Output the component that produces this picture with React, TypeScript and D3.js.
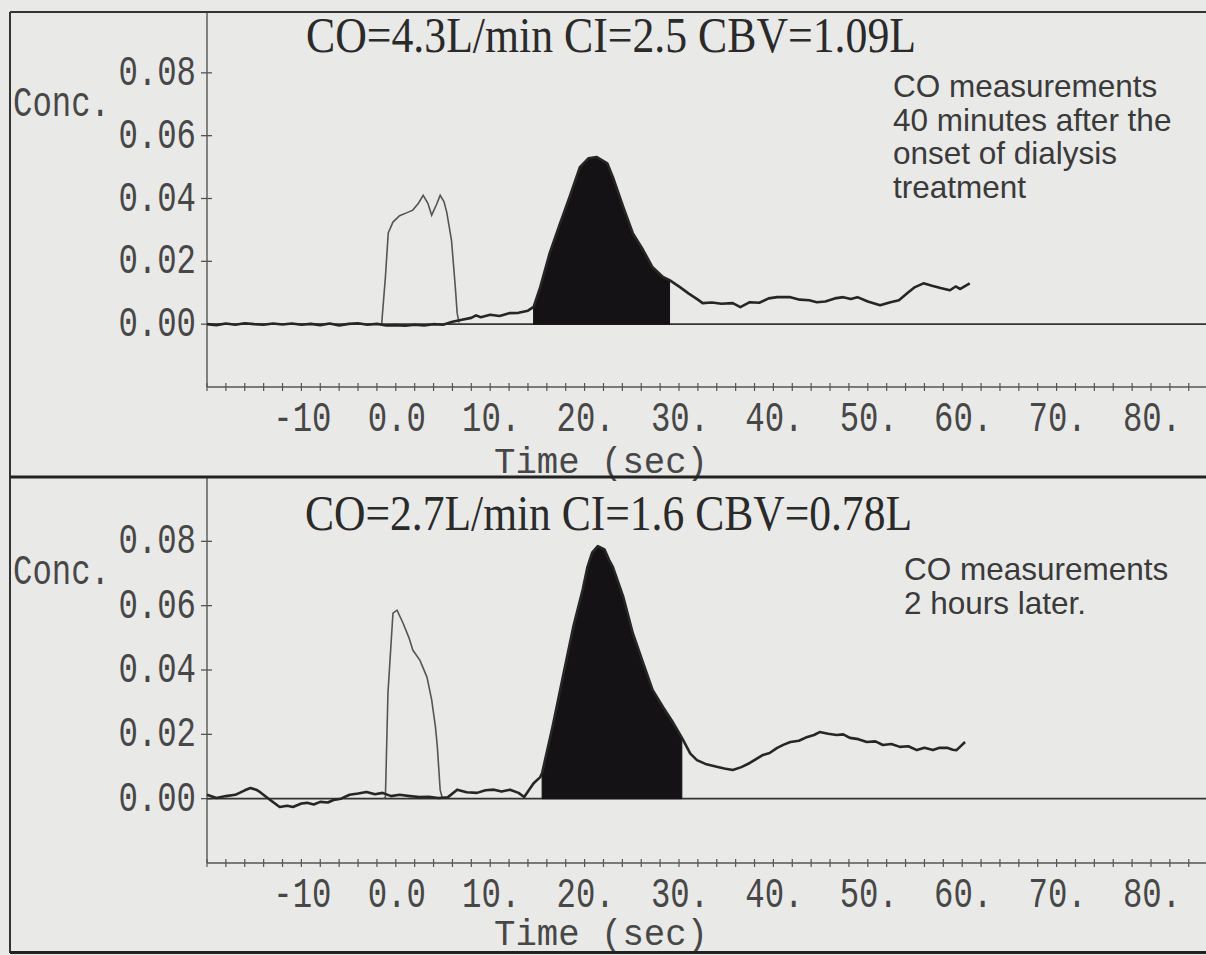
import React from "react";
import * as d3 from "d3";

const W = 1206;
const H = 955;

// ---------- axis ticks ----------
const xTickValues = [-10, 0, 10, 20, 30, 40, 50, 60, 70, 80];
const xTickLabels = ["-10", "0.0", "10.", "20.", "30.", "40.", "50.", "60.", "70.", "80."];
const xMinorStep = 2;
const yTickValues = [0, 0.02, 0.04, 0.06, 0.08];
const yTickLabels = ["0.00", "0.02", "0.04", "0.06", "0.08"];

// ---------- texts ----------
const title1 = "CO=4.3L/min  CI=2.5 CBV=1.09L";
const title2 = "CO=2.7L/min  CI=1.6 CBV=0.78L";
const notes1 = ["CO measurements", "40 minutes after the", "onset of dialysis", "treatment"];
const notes2 = ["CO measurements", "2 hours later."];

// ---------- panel 1: measured curve ----------
const time1 = [
  -20, -19, -18, -17, -16, -15, -14, -13, -12, -11, -10, -9, -8, -7, -6, -5, -4, -3, -2, -1,
  0, 1, 2, 3, 4, 5, 6, 7, 8, 8.5, 9, 10, 11, 12, 13, 14, 14.6, 15.3, 16.3, 17.4, 18.4, 19.5,
  20.4, 21.3, 22.4, 23.0, 24.1, 25.1, 26.2, 27.2, 28.3, 29.0, 30.1, 31, 32, 32.5, 33.5, 34.5,
  35.7, 36.5, 37.5, 38.5, 39.5, 40.4, 41.8, 42.8, 43.8, 44.6, 45.5, 46.5, 47.4, 48.2, 48.9,
  50, 51.3, 52.4, 53.3, 54.2, 55.0, 55.9, 56.8, 57.7, 58.7, 59.3, 59.8, 60.8,
];
const conc1 = [
  0.0, -0.0003, 0.0002, -0.0002, 0.0003, 0.0, -0.0002, 0.0002, -0.0001, 0.0002, -0.0002, 0.0001,
  -0.0003, 0.0002, -0.0004, 0.0001, 0.0003, -0.0002, 0.0001, -0.0004,
  -0.0003, -0.0005, -0.0002, -0.0004, 0.0, -0.0002, 0.0008, 0.0014, 0.002, 0.0028, 0.0022, 0.003,
  0.0026, 0.0035, 0.0036, 0.0043, 0.0055, 0.0118, 0.0226, 0.0321, 0.0404, 0.05,
  0.0528, 0.0532, 0.0512, 0.0468, 0.0372, 0.029, 0.0236, 0.0181, 0.015, 0.014, 0.0118, 0.0098,
  0.0078, 0.0067, 0.0069, 0.0065,
  0.0067, 0.0054, 0.007, 0.0068, 0.0082, 0.0086, 0.0086, 0.0078, 0.0076, 0.007, 0.0072, 0.0082,
  0.0086, 0.008, 0.0086,
  0.0072, 0.006, 0.007, 0.0076, 0.0099, 0.0118, 0.013, 0.0122, 0.0115, 0.0108, 0.012, 0.0112, 0.013,
];
const fillRange1 = [14.6, 29.0];

// ---------- panel 1: indicator curve ----------
const indTime1 = [-1.5, -1.1, -0.8, -0.3, 0.4, 1.2, 1.8, 2.4, 2.9, 3.4, 3.8, 4.3, 4.7, 5.1, 5.4, 5.9, 6.3, 6.5, 6.7];
const indConc1 = [0.0, 0.015, 0.029, 0.0325, 0.0345, 0.0355, 0.0363, 0.0385, 0.041, 0.0385, 0.0347, 0.038, 0.041, 0.039, 0.0356, 0.0267, 0.012, 0.0035, 0.0005];

// ---------- panel 2: measured curve ----------
const time2 = [
  -20, -19, -18, -17, -16, -15.4, -14.8, -14.4, -13.3, -12.3, -11.5, -10.9, -10, -9.4, -8.7, -8,
  -7.2, -6.6, -5.8, -4.9, -4, -3.1, -2.2, -1.4, -0.5, 0.4, 1.5, 2.5, 3.5, 4.5, 5.5, 6.5, 7.5, 8.6,
  9.5, 10.4, 11.2, 12.1, 13.0, 13.6, 14.6, 15.3, 15.5, 16.6, 17.7, 18.8, 19.8, 20.3, 20.8, 21.4,
  22.1, 22.6, 23.0, 24.1, 25.1, 26.2, 27.2, 28.3, 29.4, 30.3, 31.2, 31.9, 32.8, 34.0, 34.8, 35.7,
  36.6, 37.5, 38.9, 39.6, 40.4, 41.1, 41.8, 42.7, 43.6, 44.3, 44.9, 45.8, 46.7, 47.4, 48.1, 49.0,
  49.9, 50.8, 51.6, 52.5, 53.4, 54.3, 55.2, 56.0, 56.9, 57.6, 58.4, 59.0, 59.4, 59.9, 60.3,
];
const conc2 = [
  0.0012, 0.0002, 0.0008, 0.0012, 0.0026, 0.0033, 0.0028, 0.0021, -0.0004, -0.0026, -0.0022,
  -0.0026, -0.0015, -0.0013, -0.0018, -0.001,
  -0.0012, -0.0004, 0.0, 0.0012, 0.0016, 0.0021, 0.0014, 0.0018, 0.0008, 0.0012, 0.0008, 0.0005,
  0.0006, 0.0002, 0.0004, 0.0028, 0.002, 0.0018,
  0.0026, 0.0028, 0.0022, 0.0028, 0.0018, 0.0005, 0.0048, 0.0067, 0.008, 0.0223, 0.0379, 0.0534,
  0.065, 0.072, 0.0765, 0.0785,
  0.0775, 0.0742, 0.072, 0.0627, 0.0515, 0.0422, 0.0338, 0.0285, 0.0235, 0.019, 0.014, 0.012,
  0.0108, 0.0099, 0.0094, 0.0089,
  0.0098, 0.0111, 0.0136, 0.0142, 0.0158, 0.0168, 0.0176, 0.018, 0.0192, 0.0198, 0.0207, 0.0202,
  0.0198, 0.02, 0.0189, 0.0185,
  0.0176, 0.0178, 0.0167, 0.017, 0.0161, 0.0163, 0.0151, 0.0158, 0.0151, 0.0158, 0.0158, 0.0152,
  0.0151, 0.0165, 0.0176,
];
const fillRange2 = [15.5, 30.3];

// ---------- panel 2: indicator curve ----------
const indTime2 = [-1.3, -1.1, -0.83, -0.3, 0.13, 0.76, 1.4, 1.8, 2.56, 3.3, 3.8, 4.2, 4.4, 4.7, 4.9];
const indConc2 = [0.0, 0.0005, 0.0329, 0.0577, 0.0586, 0.0546, 0.05, 0.0462, 0.043, 0.0378, 0.0307, 0.0223, 0.0161, 0.0027, 0.0005];

// ---------- layout ----------
const xDomain = [-20, 80];
const xRange = [207, 1151];
const yDomain = [-0.02, 0.1];
const axisX = 207;
const frameLeft = 10;

const MONO = "'Liberation Mono', 'Courier New', monospace";
const SERIF = "'Liberation Serif', 'Times New Roman', serif";
const SANS = "'Liberation Sans', Arial, sans-serif";
const INK = "#2a2a2a";
const CHAR_W = 19.4;
const MONO_SIZE = 43;

function Mono(props: { x: number; y: number; text: string; size?: number; width?: number; fill?: string }) {
  const size = props.size ?? MONO_SIZE;
  const natural = props.text.length * 0.6 * size;
  const sx = props.width ? props.width / natural : CHAR_W / (0.6 * size);
  return (
    <text
      transform={`translate(${props.x},${props.y}) scale(${sx},1)`}
      fontFamily={MONO}
      fontSize={size}
      fill={props.fill ?? "#474747"}
    >
      {props.text}
    </text>
  );
}

type PanelProps = {
  yTop: number;
  yBottom: number;
  frameTop: number;
  title: string;
  titleX: number;
  titleBase: number;
  titleLen: number;
  notes: string[];
  notesX: number;
  notesBase: number;
  timeLabelOffset: number;
  time: number[];
  conc: number[];
  indTime: number[];
  indConc: number[];
  fillRange: number[];
};

function Panel(p: PanelProps) {
  const x = d3.scaleLinear().domain(xDomain).range(xRange);
  const y = d3.scaleLinear().domain(yDomain).range([p.yBottom, p.yTop]);
  const pts = p.time.map((t, i) => [t, p.conc[i]] as [number, number]);
  const ind = p.indTime.map((t, i) => [t, p.indConc[i]] as [number, number]);
  const fillPts = pts.filter((d) => d[0] >= p.fillRange[0] && d[0] <= p.fillRange[1]);
  const line = d3.line<[number, number]>().x((d) => x(d[0])).y((d) => y(d[1]));
  const area = d3
    .area<[number, number]>()
    .x((d) => x(d[0]))
    .y0(y(0))
    .y1((d) => y(d[1]));
  const minor = d3.range(-20, 88, xMinorStep);
  const y0 = y(0);
  const axisY = p.yBottom;

  return (
    <g>
      {/* title */}
      <text
        transform={`translate(${p.titleX},${p.titleBase})`}
        fontFamily={SERIF}
        fontSize={50}
        fill={INK}
        textLength={p.titleLen}
        lengthAdjust="spacingAndGlyphs"
      >
        {p.title}
      </text>
      {/* notes */}
      {p.notes.map((s, i) => (
        <text key={i} x={p.notesX} y={p.notesBase + i * 33.6} fontFamily={SANS} fontSize={31.5} fill="#3a3a3a">
          {s}
        </text>
      ))}
      {/* y axis */}
      <line x1={axisX} x2={axisX} y1={p.frameTop} y2={axisY} stroke="#555" strokeWidth={1.4} />
      {yTickValues.map((v, i) => (
        <g key={i}>
          <line x1={axisX - 6} x2={axisX + 5} y1={y(v)} y2={y(v)} stroke="#555" strokeWidth={1.3} />
          <Mono x={196 - yTickLabels[i].length * CHAR_W} y={y(v) + 12} text={yTickLabels[i]} />
        </g>
      ))}
      <Mono x={13} y={y(0.08) + 43} text="Conc." />
      {/* x axis */}
      <line x1={axisX} x2={W} y1={axisY} y2={axisY} stroke="#555" strokeWidth={1.4} />
      {minor.map((t) => (
        <line key={t} x1={x(t)} x2={x(t)} y1={axisY - 4} y2={axisY + 4} stroke="#555" strokeWidth={1.2} />
      ))}
      {xTickValues.map((v, i) => (
        <Mono
          key={v}
          x={x(v) + 1 - (xTickLabels[i].length * CHAR_W) / 2}
          y={axisY + 44}
          text={xTickLabels[i]}
        />
      ))}
      <Mono x={494} y={axisY + p.timeLabelOffset} text="Time (sec)" size={36} width={214} />
      {/* zero line */}
      <line x1={axisX} x2={W} y1={y0} y2={y0} stroke="#333" strokeWidth={1.6} />
      {/* filled measured area */}
      <path d={area(fillPts) || ""} fill="#141214" stroke="#141214" strokeWidth={1} />
      {/* indicator */}
      <path d={line(ind) || ""} fill="none" stroke="#555" strokeWidth={1.6} />
      {/* measured */}
      <path d={line(pts) || ""} fill="none" stroke="#262626" strokeWidth={2.6} strokeLinejoin="round" />
    </g>
  );
}

export default function App() {
  return (
    <div style={{ position: "absolute", left: 0, top: 0 }}>
      <svg width={W} height={H} viewBox={`0 0 ${W} ${H}`} style={{ display: "block" }}>
        <rect x={0} y={0} width={W} height={H} fill="#e9e9e7" />
        <Panel
          yTop={10}
          yBottom={387}
          frameTop={12}
          title={title1}
          titleX={306}
          titleBase={52}
          titleLen={610}
          notes={notes1}
          notesX={893}
          notesBase={97}
          timeLabelOffset={86}
          time={time1}
          conc={conc1}
          indTime={indTime1}
          indConc={indConc1}
          fillRange={fillRange1}
        />
        <Panel
          yTop={477}
          yBottom={863}
          frameTop={478}
          title={title2}
          titleX={305}
          titleBase={530}
          titleLen={607}
          notes={notes2}
          notesX={904}
          notesBase={580}
          timeLabelOffset={82}
          time={time2}
          conc={conc2}
          indTime={indTime2}
          indConc={indConc2}
          fillRange={fillRange2}
        />
        {/* frames */}
        <line x1={frameLeft} x2={W} y1={12} y2={12} stroke="#333" strokeWidth={2} />
        <line x1={frameLeft} x2={frameLeft} y1={12} y2={953} stroke="#333" strokeWidth={2} />
        <line x1={frameLeft} x2={W} y1={477} y2={477} stroke="#222" strokeWidth={3} />
        <line x1={frameLeft} x2={W} y1={952.5} y2={952.5} stroke="#222" strokeWidth={3} />
      </svg>
    </div>
  );
}
